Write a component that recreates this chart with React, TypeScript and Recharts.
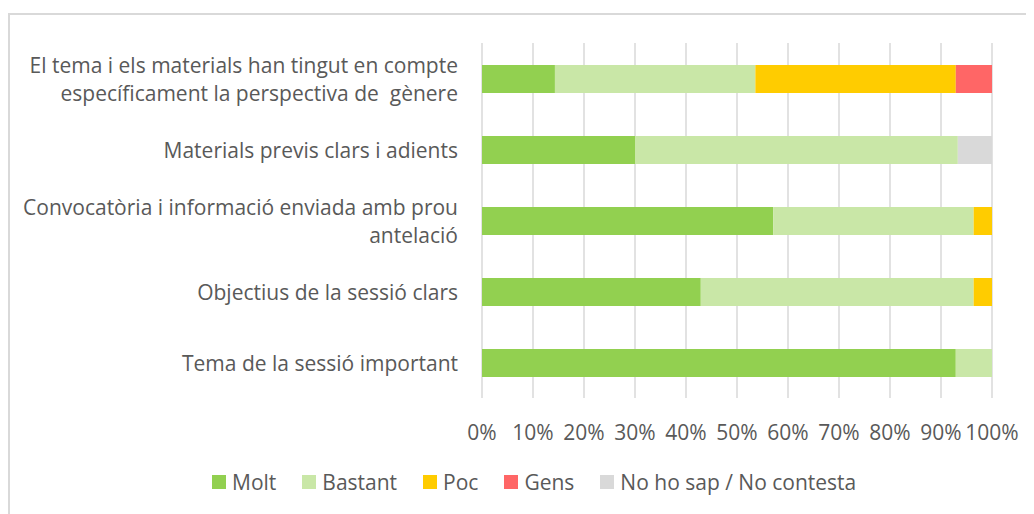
import React from 'react';
import { BarChart, Bar, XAxis, YAxis, CartesianGrid } from 'recharts';

const categories = [
  'El tema i els materials han tingut en compte\nespecíficament la perspectiva de  gènere',
  'Materials previs clars i adients',
  'Convocatòria i informació enviada amb prou\nantelació',
  'Objectius de la sessió clars',
  'Tema de la sessió important',
];
const molt = [14.3, 30.0, 57.1, 42.9, 92.9];
const bastant = [39.3, 63.3, 39.3, 53.5, 7.1];
const poc = [39.3, 0, 3.6, 3.6, 0];
const gens = [7.1, 0, 0, 0, 0];
const noSap = [0, 6.7, 0, 0, 0];
const xTicks = [0, 10, 20, 30, 40, 50, 60, 70, 80, 90, 100];

const seriesNames = ['Molt', 'Bastant', 'Poc', 'Gens', 'No ho sap / No contesta'];
const seriesColors = ['#92D050', '#C9E7A7', '#FFCC00', '#FF6666', '#D9D9D9'];

const data = categories.map((name, i) => ({
  name,
  Molt: molt[i],
  Bastant: bastant[i],
  Poc: poc[i],
  Gens: gens[i],
  'No ho sap / No contesta': noSap[i],
}));

const FONT = '"Open Sans", sans-serif';
const TEXT = '#595959';
const FS = 21;

const YTick = (props: any) => {
  const { x, y, payload } = props;
  const lines = String(payload.value).split('\n');
  const lh = 28;
  const start = y - ((lines.length - 1) * lh) / 2;
  return (
    <text x={x} y={start} textAnchor="end" fill={TEXT} fontSize={FS} fontFamily={FONT} dominantBaseline="central">
      {lines.map((l, i) => (
        <tspan key={i} x={x} y={start + i * lh} style={{ whiteSpace: 'pre' }}>
          {l}
        </tspan>
      ))}
    </text>
  );
};

export default function App() {
  return (
    <div style={{ position: 'relative', width: 1026, height: 506, overflow: 'hidden' }}>
      <div
        style={{
          position: 'absolute',
          left: 0,
          top: 5,
          width: 1040,
          height: 520,
          border: '2px solid #D9D9D9',
          boxSizing: 'border-box',
        }}
      />
      <BarChart
        width={1026}
        height={506}
        data={data}
        layout="vertical"
        margin={{ top: 35, right: 42, left: 0, bottom: 56 }}
        barSize={28}
      >
        <CartesianGrid horizontal={false} stroke="#D9D9D9" strokeWidth={1.5} />
        <XAxis
          type="number"
          domain={[0, 100]}
          ticks={xTicks}
          tickFormatter={(v: number) => `${v}%`}
          axisLine={false}
          tickLine={false}
          tickSize={0}
          tickMargin={27}
          interval={0}
          height={60}
          tick={{ fill: TEXT, fontSize: FS, fontFamily: FONT }}
        />
        <YAxis
          type="category"
          dataKey="name"
          width={474}
          axisLine={false}
          tickLine={false}
          tickSize={0}
          tickMargin={24}
          interval={0}
          tick={<YTick />}
        />
        {seriesNames.map((s, i) => (
          <Bar key={s} dataKey={s} stackId="a" fill={seriesColors[i]} isAnimationActive={false} />
        ))}
      </BarChart>
      <div
        style={{
          position: 'absolute',
          top: 459,
          left: 204,
          display: 'flex',
          alignItems: 'center',
          height: 30,
          fontFamily: FONT,
          fontSize: FS,
          color: TEXT,
        }}
      >
        {seriesNames.map((s, i) => (
          <div key={s} style={{ display: 'flex', alignItems: 'center', marginRight: 26 }}>
            <span style={{ width: 14, height: 14, background: seriesColors[i], display: 'inline-block', marginRight: 6 }} />
            <span style={{ whiteSpace: 'pre' }}>{s}</span>
          </div>
        ))}
      </div>
    </div>
  );
}
